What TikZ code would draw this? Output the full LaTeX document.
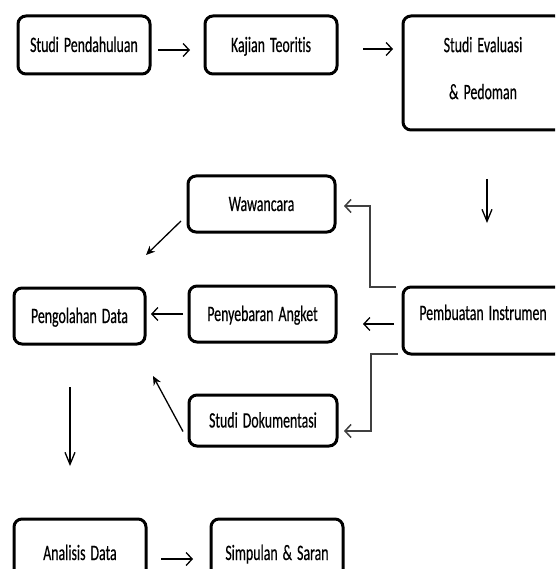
\documentclass[tikz,border=0pt]{standalone}
\usepackage{fontspec}
\setmainfont{Carlito}[FakeStretch=0.63, WordSpace=1.6, FakeBold=0.4, Ligatures=NoCommon]
\usetikzlibrary{arrows.meta}
\begin{document}
\begin{tikzpicture}[x=1pt,y=-1pt,
  box/.style={draw, line width=3pt, rounded corners=8pt, inner sep=0pt, outer sep=0pt,
    align=center, anchor=north west, font=\fontsize{22}{26}\selectfont},
  one/.style={text height=18pt, text depth=4pt},
  arr/.style={line width=1.3pt, -{Straight Barb[length=6pt,width=13pt,line width=1.3pt]}},
  varr/.style={line width=1.3pt, -{Straight Barb[length=12pt,width=10pt,line width=1.3pt]}},
  darr/.style={line width=1.3pt, -{Stealth[length=9pt,width=8pt]}},
  elb/.style={line width=1.5pt, black!75},
  elbarr/.style={elb, -{Straight Barb[length=6pt,width=13pt,line width=1.5pt]}}
]
\useasboundingbox (0,0) rectangle (555,569);
\clip (0,0) rectangle (555,569);
\fill[white] (0,0) rectangle (555,569);

\node[box, one, minimum width=132pt, minimum height=58pt] (sp) at (18,16) {Studi Pendahuluan};
\node[box, one, minimum width=132pt, minimum height=58pt] (kt) at (205,16) {Kajian Teoritis};
\node[box, minimum width=160pt, minimum height=114pt] (se) at (403,16) {Studi Evaluasi\\[21pt]\& Pedoman\\[-16pt]\mbox{}};
\node[box, one, minimum width=147pt, minimum height=56pt] (wa) at (188,176) {Wawancara};
\node[box, one, minimum width=131pt, minimum height=56pt] (pe) at (14,288) {Pengolahan Data};
\node[box, one, minimum width=147pt, minimum height=56pt] (pa) at (189,286) {Penyebaran Angket};
\node[box, text height=18pt, text depth=19pt, minimum width=160pt, minimum height=67pt] (pi) at (403,287) {Pembuatan Instrumen};
\node[box, one, minimum width=148pt, minimum height=51pt] (sd) at (189,395) {Studi Dokumentasi};
\node[box, one, minimum width=132pt, minimum height=68pt] (an) at (14,519) {Analisis Data};
\node[box, one, minimum width=132pt, minimum height=68pt] (ss) at (211,519) {Simpulan \& Saran};

\draw[arr, shorten <=8pt, shorten >=15pt] (sp.east |- 0,50) -- (kt.west |- 0,50);
\draw[arr, shorten <=26pt, shorten >=10pt] (kt.east |- 0,49) -- (se.west |- 0,49);
\draw[varr, shorten <=49pt, shorten >=64pt] (se.south -| 487,0) -- (pi.north -| 487,0);
\draw[elbarr, shorten >=9pt] (pi.north -| 396,0) -- ++(-26,0) |- (wa.east |- 0,206);
\draw[arr, shorten <=9pt, shorten >=27pt] (pi.west |- 0,324) -- (pa.east |- 0,324);
\draw[elbarr, shorten >=7pt] (pi.south -| 398,0) -- ++(-27,0) |- (sd.east |- 0,431);
\draw[darr] ([xshift=-7pt,yshift=-17pt]wa.west) -- ([xshift=1pt,yshift=33pt]pe.north east);
\draw[arr, shorten <=6pt, shorten >=6pt] (pa.west |- 0,314) -- (pe.east |- 0,314);
\draw[darr] ([xshift=-6pt,yshift=-11pt]sd.west) -- ([xshift=8pt,yshift=-32pt]pe.south east);
\draw[varr, shorten <=43pt, shorten >=53pt] (pe.south -| 70,0) -- (an.north -| 70,0);
\draw[arr, shorten <=15pt, shorten >=18pt] (an.east |- 0,559) -- (ss.west |- 0,559);
\end{tikzpicture}
\end{document}
